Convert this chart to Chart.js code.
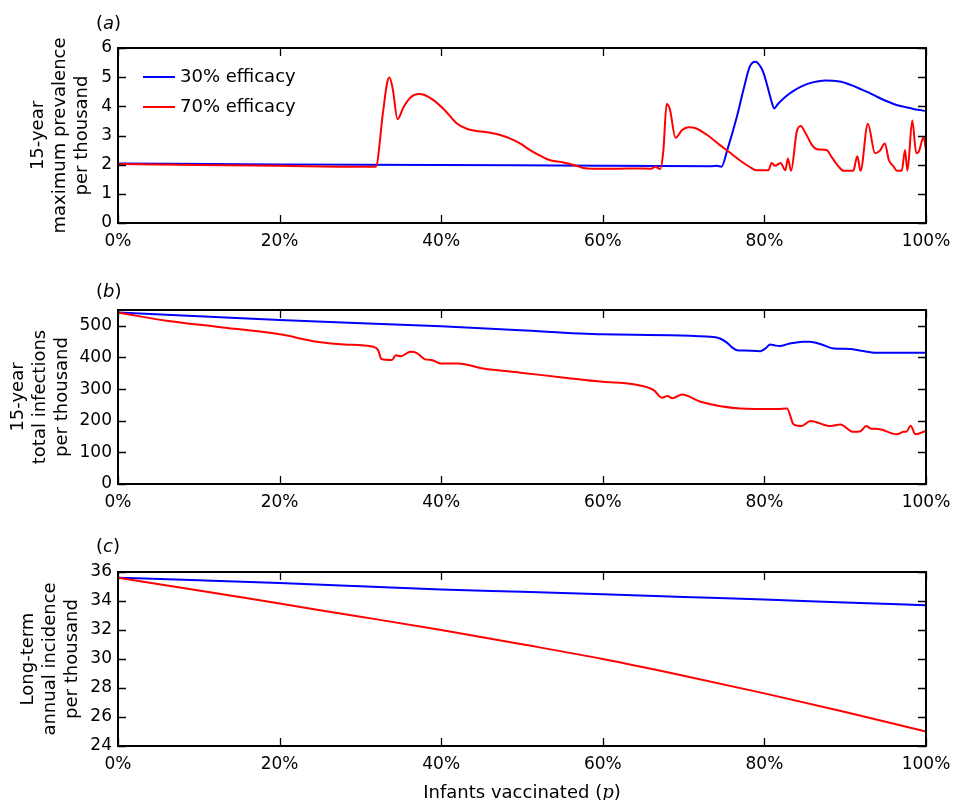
<!DOCTYPE html>
<html><head><meta charset="utf-8">
<script src="https://cdn.jsdelivr.net/npm/chart.js@4.4.1/dist/chart.umd.min.js"></script>
<style>
body{margin:0;background:#fff;width:954px;height:800px;position:relative;overflow:hidden;}
canvas{position:absolute;left:0;}
.lab{position:absolute;font:18px "DejaVu Sans";color:#000;white-space:nowrap;line-height:22px;}
.lab i{font-style:oblique;}
.lab .m{font-family:"DejaVu Serif";font-style:italic;}
</style></head><body>
<canvas id="ca" width="954" height="260" style="top:0"></canvas>
<canvas id="cb" width="954" height="259" style="top:262px"></canvas>
<canvas id="cc" width="954" height="259" style="top:524px"></canvas>
<div class="lab" style="left:96px;top:12px">(<i>a</i>)</div>
<div class="lab" style="left:96px;top:280px">(<i>b</i>)</div>
<div class="lab" style="left:96px;top:535px">(<i>c</i>)</div>
<div class="lab" style="left:522px;top:781px;transform:translateX(-50%)">Infants vaccinated (<span class="m">p</span>)</div>
<script>
// ---- data ----
const seriesNames = ["30% efficacy", "70% efficacy"];
const xTickValues = [0, 20, 40, 60, 80, 100];

// (a) 15-year maximum prevalence per thousand
const prevX30 = [0, 20, 40, 60, 73.5, 74.1, 74.7, 75.4, 76.6, 77.4, 78.2, 78.9, 79.5, 79.9, 80.5, 80.9, 81.2, 81.7, 82.3, 82.8, 83.6, 84.8, 86.1, 87.5, 88.5, 89.5, 91.0, 92.0, 93.0, 94.0, 95.0, 96.0, 97.0, 98.0, 99.0, 100];
const prevY30 = [2.04, 2.01, 1.99, 1.96, 1.95, 1.96, 1.93, 2.50, 3.65, 4.56, 5.37, 5.53, 5.37, 5.14, 4.56, 4.15, 3.93, 4.09, 4.25, 4.37, 4.53, 4.71, 4.83, 4.89, 4.88, 4.84, 4.70, 4.58, 4.46, 4.32, 4.19, 4.08, 4.00, 3.94, 3.88, 3.84];
const prevX70 = [0, 10, 20, 30, 31.9, 32.8, 33.3, 33.6, 34.0, 34.6, 35.3, 36.2, 37.2, 38.0, 39.0, 40.5, 41.9, 43.0, 44.0, 45.5, 47.3, 48.5, 49.8, 51.0, 52.3, 53.5, 55.0, 56.5, 58.0, 62.0, 64.0, 66.0, 66.5, 67.1, 67.5, 67.9, 68.3, 69.0, 69.8, 70.6, 71.5, 73.0, 74.5, 75.8, 77.2, 78.2, 79.0, 80.5, 80.9, 81.3, 82.0, 82.6, 82.9, 83.3, 84.0, 84.5, 85.0, 85.9, 86.5, 87.7, 88.3, 89.2, 89.8, 91.0, 91.5, 91.9, 92.8, 93.7, 94.3, 94.9, 95.4, 96.0, 96.4, 97.0, 97.4, 97.7, 98.3, 98.8, 99.1, 99.7, 100];
const prevY70 = [2.02, 1.99, 1.96, 1.93, 1.93, 3.80, 4.80, 4.99, 4.60, 3.56, 3.95, 4.30, 4.42, 4.38, 4.22, 3.85, 3.42, 3.25, 3.17, 3.12, 3.02, 2.90, 2.72, 2.50, 2.30, 2.15, 2.08, 1.98, 1.87, 1.86, 1.87, 1.86, 1.93, 1.85, 2.50, 4.08, 3.90, 2.92, 3.18, 3.28, 3.25, 3.00, 2.67, 2.40, 2.10, 1.92, 1.81, 1.81, 2.06, 1.96, 2.06, 1.81, 2.21, 1.79, 3.13, 3.33, 3.13, 2.67, 2.53, 2.50, 2.27, 1.93, 1.79, 1.79, 2.29, 1.79, 3.40, 2.39, 2.48, 2.73, 2.16, 1.93, 1.79, 1.79, 2.50, 1.79, 3.51, 2.39, 2.44, 2.94, 2.50];

// (b) 15-year total infections per thousand
const infX30 = [0, 20, 40, 49.8, 60, 73.7, 74.5, 75.4, 76.0, 76.6, 77.5, 79.5, 80.2, 80.7, 81.3, 81.9, 83.0, 84.8, 85.6, 87.0, 88.6, 90.6, 92.0, 93.9, 100];
const infY30 = [542, 518, 499, 486, 473, 465, 460, 446, 432, 423, 422, 420, 430, 441, 438, 436, 443, 450, 450, 442, 428, 427, 421, 415, 415];
const infX70 = [0, 6, 12.2, 20, 24.6, 28, 31.6, 32.2, 32.6, 33.9, 34.4, 35.0, 36.2, 37.0, 38.0, 38.8, 39.9, 42.1, 45.2, 49.8, 55, 60, 63.8, 66.3, 67.3, 68.0, 68.6, 69.8, 72.1, 77.0, 81.6, 82.8, 83.6, 84.6, 85.7, 88.2, 89.4, 91.0, 91.9, 92.6, 93.2, 94.1, 96.4, 97.2, 97.6, 98.1, 98.7, 100];
const infY70 = [542, 516, 497, 473, 450, 441, 434, 423, 395, 392, 407, 404, 418, 414, 394, 392, 381, 381, 365, 352, 337, 323, 315, 297, 273, 278, 271, 283, 260, 239, 237, 239, 189, 183, 199, 183, 188, 165, 167, 183, 175, 174, 157, 165, 166, 184, 157, 168];

// (c) long-term annual incidence per thousand
const incX = [0, 10, 20, 30, 40, 50, 60, 70, 80, 90, 100];
const incY30 = [35.61, 35.43, 35.24, 35.02, 34.79, 34.63, 34.46, 34.28, 34.10, 33.90, 33.71];
const incY70 = [35.61, 34.73, 33.82, 32.92, 32.00, 31.02, 30.00, 28.85, 27.63, 26.35, 25.00];

const yTitleA = ["15-year", "maximum prevalence", "per thousand"];
const yTitleB = ["15-year", "total infections", "per thousand"];
const yTitleC = ["Long-term", "annual incidence", "per thousand"];

// ---- helpers ----
const pts = (xs, ys) => xs.map((x, i) => ({x, y: ys[i]}));
const FONT = "DejaVu Sans";

const frameTicks = {
  id: 'frameTicks',
  afterDatasetsDraw(chart) {
    const {ctx, chartArea: a, scales: {x, y}} = chart;
    ctx.save();
    ctx.strokeStyle = '#000';
    ctx.lineWidth = 1.3;
    ctx.beginPath();
    x.ticks.forEach(t => {
      const px = Math.round(x.getPixelForValue(t.value)) + 0.5;
      ctx.moveTo(px, a.bottom); ctx.lineTo(px, a.bottom - 8);
      ctx.moveTo(px, a.top); ctx.lineTo(px, a.top + 8);
    });
    y.ticks.forEach(t => {
      const py = Math.round(y.getPixelForValue(t.value)) + 0.5;
      ctx.moveTo(a.left, py); ctx.lineTo(a.left + 8, py);
      ctx.moveTo(a.right, py); ctx.lineTo(a.right - 8, py);
    });
    ctx.stroke();
    ctx.lineWidth = 2;
    ctx.strokeRect(a.left, a.top, a.right - a.left, a.bottom - a.top);
    ctx.restore();
  }
};

const insideLegend = {
  id: 'insideLegend',
  afterDatasetsDraw(chart) {
    const {ctx, chartArea: a} = chart;
    ctx.save();
    ctx.font = '18px "' + FONT + '"';
    ctx.textBaseline = 'middle';
    ctx.textAlign = 'left';
    chart.data.datasets.forEach((d, i) => {
      const yy = a.top + 29 + i * 30;
      ctx.strokeStyle = d.borderColor;
      ctx.lineWidth = 2;
      ctx.beginPath();
      ctx.moveTo(a.left + 25, yy); ctx.lineTo(a.left + 57, yy);
      ctx.stroke();
      ctx.fillStyle = '#000';
      ctx.fillText(d.label, a.left + 62, yy);
    });
    ctx.restore();
  }
};

function makeChart(id, ds, yMin, yMax, yStep, yTitle, titlePad, yFilterMax, legend) {
  const plugins = [frameTicks];
  if (legend) plugins.push(insideLegend);
  return new Chart(document.getElementById(id), {
    type: 'line',
    data: {
      datasets: ds.map((d, i) => ({
        label: seriesNames[i],
        data: d,
        borderColor: i === 0 ? '#0000ff' : '#ff0000',
        borderWidth: 2,
        pointRadius: 0,
        fill: false,
        cubicInterpolationMode: 'monotone',
        order: i === 0 ? 1 : 0
      }))
    },
    options: {
      responsive: false,
      animation: false,
      devicePixelRatio: 1,
      layout: {padding: {top: 48, right: 28, left: 0, bottom: 0}},
      plugins: {legend: {display: false}, tooltip: {enabled: false}},
      scales: {
        x: {
          type: 'linear', min: 0, max: 100,
          afterBuildTicks: s => { s.ticks = xTickValues.map(v => ({value: v})); },
          afterFit: s => { s.height = 37; s.paddingLeft = 0; s.paddingRight = 0; },
          grid: {display: false, drawTicks: false, tickLength: 0},
          border: {display: false},
          ticks: {padding: 8, color: '#000', font: {family: FONT, size: 17}, callback: v => v + '%'}
        },
        y: {
          min: yMin, max: yMax,
          afterBuildTicks: s => {
            const t = [];
            for (let v = yMin; v <= yFilterMax + 1e-9; v += yStep) t.push({value: v});
            s.ticks = t;
          },
          afterFit: s => { s.width = 118; s.paddingTop = 0; s.paddingBottom = 0; },
          grid: {display: false, drawTicks: false, tickLength: 0},
          border: {display: false},
          ticks: {padding: 6, color: '#000', font: {family: FONT, size: 17}},
          title: {display: true, text: yTitle, color: '#000',
            font: {family: FONT, size: 18, lineHeight: 1.2}, padding: {top: titlePad, bottom: 0}}
        }
      }
    },
    plugins
  });
}

makeChart('ca', [pts(prevX30, prevY30), pts(prevX70, prevY70)], 0, 6, 1, yTitleA, 28, 6, true);
makeChart('cb', [pts(infX30, infY30), pts(infX70, infY70)], 0, 550, 100, yTitleB, 8, 500, false);
makeChart('cc', [pts(incX, incY30), pts(incX, incY70)], 24, 36, 2, yTitleC, 18, 36, false);
</script>
</body></html>
